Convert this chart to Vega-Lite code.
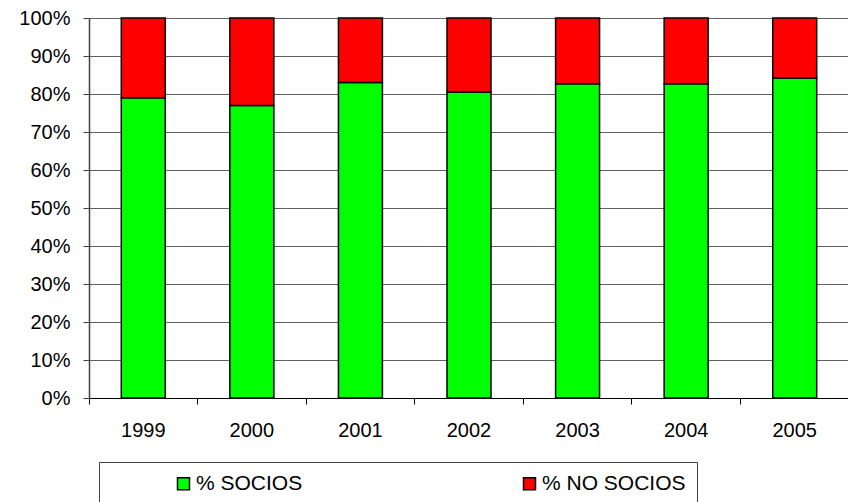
{
  "$schema": "https://vega.github.io/schema/vega-lite/v6.json",
  "width": 760,
  "height": 380,
  "autosize": "none",
  "padding": {"left": 89, "top": 18, "right": 0, "bottom": 104},
  "background": "white",
  "data": {
    "values": [
      {"anio": "1999", "serie": "% SOCIOS", "valor": 79, "orden": 1},
      {"anio": "1999", "serie": "% NO SOCIOS", "valor": 21, "orden": 2},
      {"anio": "2000", "serie": "% SOCIOS", "valor": 77, "orden": 1},
      {"anio": "2000", "serie": "% NO SOCIOS", "valor": 23, "orden": 2},
      {"anio": "2001", "serie": "% SOCIOS", "valor": 83, "orden": 1},
      {"anio": "2001", "serie": "% NO SOCIOS", "valor": 17, "orden": 2},
      {"anio": "2002", "serie": "% SOCIOS", "valor": 80.5, "orden": 1},
      {"anio": "2002", "serie": "% NO SOCIOS", "valor": 19.5, "orden": 2},
      {"anio": "2003", "serie": "% SOCIOS", "valor": 82.7, "orden": 1},
      {"anio": "2003", "serie": "% NO SOCIOS", "valor": 17.3, "orden": 2},
      {"anio": "2004", "serie": "% SOCIOS", "valor": 82.7, "orden": 1},
      {"anio": "2004", "serie": "% NO SOCIOS", "valor": 17.3, "orden": 2},
      {"anio": "2005", "serie": "% SOCIOS", "valor": 84.2, "orden": 1},
      {"anio": "2005", "serie": "% NO SOCIOS", "valor": 15.8, "orden": 2}
    ]
  },
  "mark": {"type": "bar", "stroke": "black", "strokeWidth": 1.5, "width": {"band": 0.405}},
  "encoding": {
    "x": {
      "field": "anio",
      "type": "ordinal",
      "scale": {"paddingInner": 0, "paddingOuter": 0},
      "axis": {
        "title": null,
        "labelAngle": 0,
        "bandPosition": 0,
        "domainColor": "black",
        "domainWidth": 1,
        "tickColor": "black",
        "tickSize": 6,
        "labelPadding": 16,
        "labelFontSize": 20,
        "labelFont": "Liberation Sans",
        "labelColor": "black",
        "grid": false
      }
    },
    "y": {
      "field": "valor",
      "type": "quantitative",
      "stack": "normalize",
      "scale": {"domain": [0, 1]},
      "axis": {
        "title": null,
        "format": ".0%",
        "values": [0, 0.1, 0.2, 0.3, 0.4, 0.5, 0.6, 0.7, 0.8, 0.9, 1],
        "grid": true,
        "gridColor": "#606060",
        "gridWidth": 1,
        "domainColor": "#404040",
        "domainWidth": 1.5,
        "tickColor": "#404040",
        "tickSize": 6,
        "labelPadding": 13,
        "labelFontSize": 20,
        "labelFont": "Liberation Sans",
        "labelColor": "black"
      }
    },
    "color": {
      "field": "serie",
      "type": "nominal",
      "scale": {"domain": ["% SOCIOS", "% NO SOCIOS"], "range": ["#00FF00", "#FF0000"]},
      "legend": {
        "title": null,
        "orient": "none",
        "legendX": 10,
        "legendY": 444,
        "direction": "horizontal",
        "symbolType": "square",
        "symbolSize": 144,
        "symbolStrokeColor": "black",
        "symbolStrokeWidth": 1.5,
        "symbolOffset": 63,
        "labelOffset": 2,
        "labelLimit": 400,
        "labelFontSize": 21,
        "labelFont": "Liberation Sans",
        "labelColor": "black",
        "columnPadding": 153,
        "padding": 11,
        "fillColor": "white",
        "strokeColor": "#404040",
        "encode": {
          "entries": {"update": {"width": {"signal": "datum.value == '% NO SOCIOS' ? 376 : 0"}}}
        }
      }
    },
    "order": {"field": "orden", "type": "quantitative"}
  },
  "config": {
    "view": {"stroke": null}
  }
}
